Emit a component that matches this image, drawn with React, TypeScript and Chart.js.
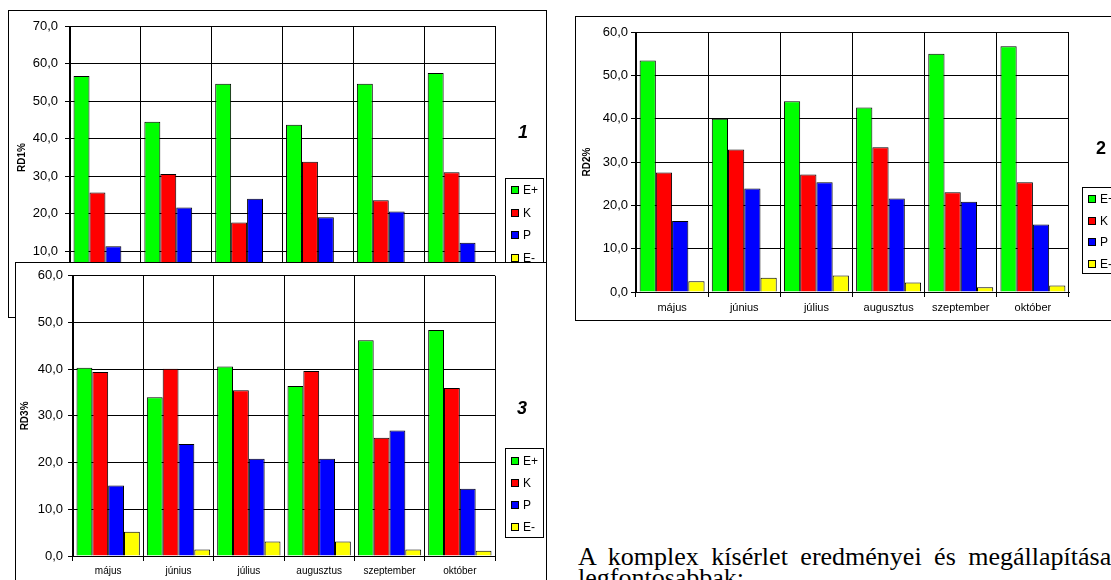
import React, { useEffect, useRef } from "react";
import { Chart, registerables } from "chart.js";

Chart.register(...registerables);

const months = ["május", "június", "július", "augusztus", "szeptember", "október"];
const seriesNames = ["E+", "K", "P", "E-"];
const seriesColors = ["#00FF00", "#FF0000", "#0000FF", "#FFFF00"];

const rd1EPlus = [56.7, 44.5, 54.6, 43.7, 54.6, 57.5];
const rd1K = [25.7, 30.6, 17.7, 33.9, 23.6, 31.1];
const rd1P = [11.4, 21.7, 24.0, 19.1, 20.6, 12.3];
const rd1EMinus = [4.0, 2.5, 3.0, 2.5, 1.5, 1.5];

const rd2EPlus = [53.4, 40.0, 44.0, 42.6, 55.0, 56.7];
const rd2K = [27.6, 32.9, 27.1, 33.4, 23.0, 25.3];
const rd2P = [16.4, 23.9, 25.3, 21.6, 20.8, 15.6];
const rd2EMinus = [2.5, 3.3, 3.8, 2.2, 1.1, 1.5];

const rd3EPlus = [40.3, 34.0, 40.6, 36.4, 46.2, 48.4];
const rd3K = [39.4, 40.1, 35.5, 39.6, 25.3, 36.0];
const rd3P = [15.1, 24.0, 20.8, 20.8, 26.9, 14.4];
const rd3EMinus = [5.2, 1.4, 3.1, 3.1, 1.4, 1.1];

const paragraphLines = ["A komplex kísérlet eredményei és megállapításai", "legfontosabbak:"];

const SANS = "'Liberation Sans', Arial, sans-serif";

const boxLegend = {
  id: "boxLegend",
  afterDraw(chart: any, _args: any, opts: any) {
    if (!opts || opts.x == null) return;
    const ctx = chart.ctx as CanvasRenderingContext2D;
    ctx.save();
    const { x, y, w, h, first, gap, mark, markX, markY, italic } = opts;
    ctx.fillStyle = "#fff";
    ctx.fillRect(x, y, w, h);
    ctx.strokeStyle = "#000";
    ctx.lineWidth = 1;
    ctx.strokeRect(x + 0.5, y + 0.5, w, h);
    ctx.font = `12px ${SANS}`;
    ctx.textBaseline = "middle";
    ctx.textAlign = "left";
    chart.data.datasets.forEach((ds: any, i: number) => {
      const cy = Math.round(y + first + i * gap);
      ctx.fillStyle = ds.backgroundColor;
      ctx.fillRect(x + 6, cy - 3, 7, 7);
      ctx.strokeStyle = "#000";
      ctx.strokeRect(x + 6.5, cy - 3.5, 7, 7);
      ctx.fillStyle = "#000";
      ctx.fillText(ds.label, x + 18, cy + 1);
    });
    ctx.font = `${italic ? "italic " : ""}bold 18px ${SANS}`;
    ctx.textAlign = "center";
    ctx.fillText(mark, markX, markY);
    ctx.restore();
  },
};

type Cfg = {
  left: number;
  top: number;
  width: number;
  height: number;
  max: number;
  title: string;
  values: number[][];
  yWidth: number;
  xHeight: number;
  padRight: number;
  padTop: number;
  padBottom: number;
  titlePad: number;
  yPad: number;
  xFont: number;
  legend: any;
};

function BarChart({ cfg }: { cfg: Cfg }) {
  const ref = useRef<HTMLCanvasElement>(null);
  const cw = cfg.width - 2;
  const chh = cfg.height - 2;
  useEffect(() => {
    const chart = new Chart(ref.current as HTMLCanvasElement, {
      type: "bar",
      data: {
        labels: months,
        datasets: cfg.values.map((vals, i) => ({
          label: seriesNames[i],
          data: vals,
          backgroundColor: seriesColors[i],
          borderColor: "#000",
          borderWidth: 1,
          categoryPercentage: 0.9,
          barPercentage: 1.0,
        })),
      },
      options: {
        animation: false,
        responsive: false,
        events: [],
        layout: { padding: { left: 0, right: cfg.padRight, top: cfg.padTop, bottom: cfg.padBottom } },
        plugins: {
          legend: { display: false },
          tooltip: { enabled: false },
          boxLegend: cfg.legend,
        } as any,
        scales: {
          x: {
            grid: { color: "#000", lineWidth: 1, offset: true, drawTicks: true, tickLength: 5 },
            border: { color: "#000", width: 1 },
            ticks: {
              color: "#000",
              font: { family: SANS, size: cfg.xFont },
              padding: 4,
              maxRotation: 0,
              autoSkip: false,
            },
            afterFit: (s: any) => {
              s.height = cfg.xHeight;
            },
          },
          y: {
            min: 0,
            max: cfg.max,
            ticks: {
              stepSize: 10,
              color: "#000",
              font: { family: SANS, size: 13 },
              padding: cfg.yPad,
              callback: (v: any) => Number(v).toFixed(1).replace(".", ","),
            },
            grid: { color: "#000", lineWidth: 1, tickLength: 5 },
            border: { color: "#000", width: 1 },
            title: {
              display: true,
              text: cfg.title,
              color: "#000",
              font: { family: SANS, size: 10, weight: "bold" },
              padding: { top: cfg.titlePad, bottom: 0 },
            },
            afterFit: (s: any) => {
              s.width = cfg.yWidth;
            },
          },
        },
      } as any,
      plugins: [boxLegend as any],
    });
    return () => chart.destroy();
  }, []);
  return (
    <div
      style={{
        position: "absolute",
        left: cfg.left,
        top: cfg.top,
        width: cfg.width,
        height: cfg.height,
        border: "1px solid #000",
        boxSizing: "border-box",
        background: "#fff",
      }}
    >
      <canvas ref={ref} width={cw} height={chh} style={{ display: "block", width: cw, height: chh }} />
    </div>
  );
}

const chart1: Cfg = {
  left: 8,
  top: 10,
  width: 539,
  height: 308,
  max: 70,
  title: "RD1%",
  values: [rd1EPlus, rd1K, rd1P, rd1EMinus],
  yWidth: 61,
  xHeight: 28,
  padRight: 51,
  padTop: 15,
  padBottom: 0,
  titlePad: 7,
  yPad: 7,
  xFont: 10,
  legend: { x: 496, y: 167, w: 38, h: 89, first: 12, gap: 22.7, mark: "1", markX: 514, markY: 122, italic: true },
};

const chart2: Cfg = {
  left: 575,
  top: 16,
  width: 560,
  height: 305,
  max: 60,
  title: "RD2%",
  values: [rd2EPlus, rd2K, rd2P, rd2EMinus],
  yWidth: 60,
  xHeight: 28,
  padRight: 65,
  padTop: 15,
  padBottom: 0,
  titlePad: 5,
  yPad: 3,
  xFont: 11,
  legend: { x: 506, y: 170, w: 38, h: 86, first: 12, gap: 21.5, mark: "2", markX: 525, markY: 132, italic: false },
};

const chart3: Cfg = {
  left: 15,
  top: 262,
  width: 532,
  height: 330,
  max: 60,
  title: "RD3%",
  values: [rd3EPlus, rd3K, rd3P, rd3EMinus],
  yWidth: 57,
  xHeight: 28,
  padRight: 51,
  padTop: 12,
  padBottom: 7,
  titlePad: 3,
  yPad: 5,
  xFont: 10,
  legend: { x: 489, y: 185, w: 38, h: 89, first: 13, gap: 22, mark: "3", markX: 506, markY: 146, italic: true },
};

export default function App() {
  return (
    <div
      style={{
        position: "absolute",
        left: 0,
        top: 0,
        width: 1111,
        height: 580,
        overflow: "hidden",
        background: "#fff",
      }}
    >
      <BarChart cfg={chart1} />
      <BarChart cfg={chart2} />
      <BarChart cfg={chart3} />
      <div
        style={{
          position: "absolute",
          left: 578,
          top: 546,
          fontFamily: "'Liberation Serif', 'Times New Roman', serif",
          fontSize: 26,
          lineHeight: "21px",
          whiteSpace: "nowrap",
          wordSpacing: 6,
          color: "#000",
        }}
      >
        {paragraphLines.map((l, i) => (
          <div key={i}>{l}</div>
        ))}
      </div>
    </div>
  );
}
